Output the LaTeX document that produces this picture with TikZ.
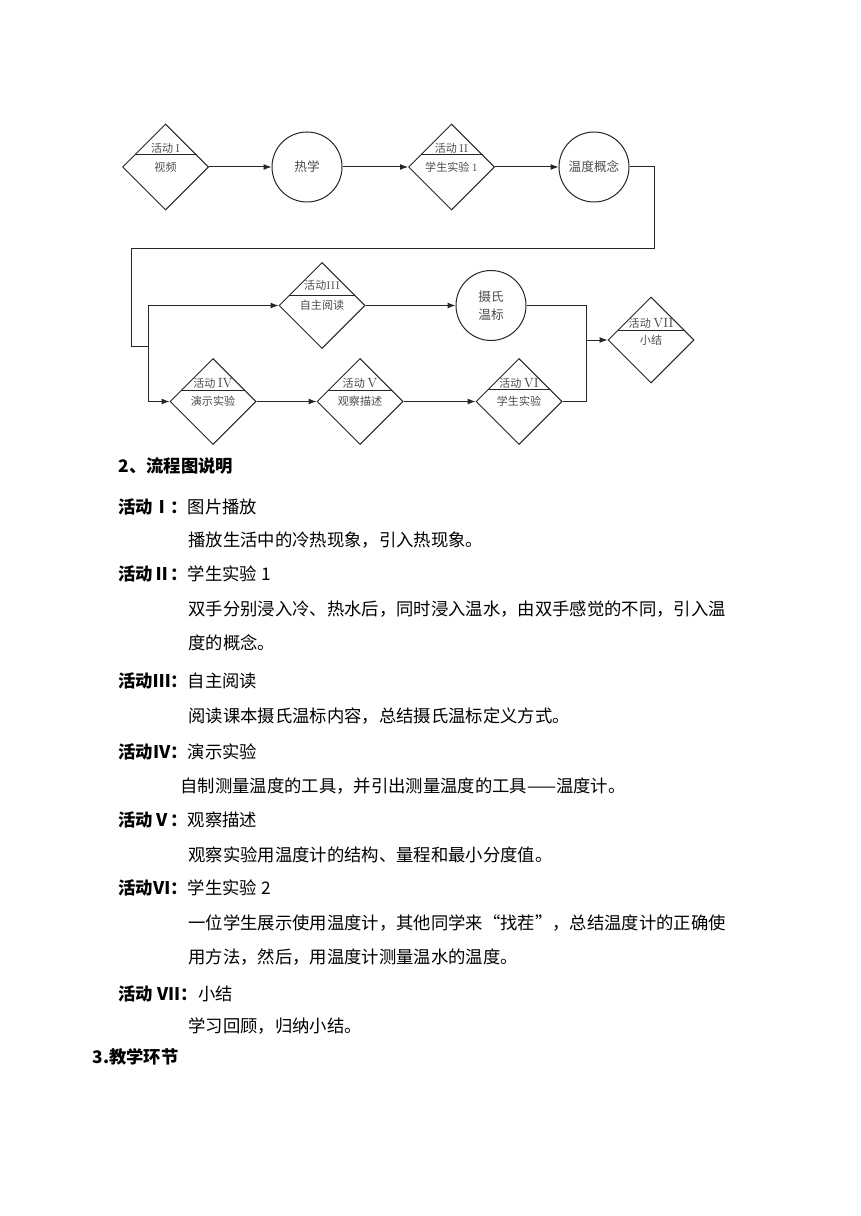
\documentclass[tikz,border=0pt]{standalone}
\usepackage{fontspec}
\usepackage{tikz}
\usetikzlibrary{shapes.geometric, arrows.meta}
\newfontfamily\cjk{Noto Sans CJK SC}
\newcommand{\rn}[1]{\makebox[1em]{#1}}
\newcommand{\oq}{\makebox[1em][r]{“}}
\newcommand{\cq}{\makebox[1em][l]{”}}
\newcommand{\bignum}[1]{{\rmfamily\fontsize{10pt}{10pt}\selectfont #1}}

\begin{document}
\begin{tikzpicture}[x=0.75pt, y=-0.75pt, line width=0.75pt, draw=black!85,
  act/.style={draw, diamond, minimum width=64.5pt, minimum height=64.5pt, inner sep=0pt, text=black!70, font=\cjk\fontsize{8.3pt}{9pt}\selectfont},
  topic/.style={draw, circle, minimum size=52.5pt, inner sep=0pt, text=black!70, align=center, font=\cjk\fontsize{9.5pt}{13.5pt}\selectfont},
  tag/.style={inner sep=0pt, text=black!70, font=\cjk\fontsize{8.3pt}{9pt}\selectfont},
  flow/.style={-{Latex[length=6pt, width=4.5pt]}},
  para/.style={anchor=west, inner sep=0pt, text height=11pt, text depth=1.5pt, font=\cjk\fontsize{13pt}{16pt}\selectfont},
  head/.style={para, font=\cjk\bfseries\fontsize{13pt}{16pt}\selectfont}]
	\path[fill=white] (0,0) rectangle (860,1216);
	\useasboundingbox (0,0) rectangle (860,1216);

	% flow chart, first row
	\node[act] (d1) at (165.5,167) {视频};
	\node[tag] (d1h) at ([shift={(0,-19)}]d1.center) {活动 {\rmfamily I}};
	\node[topic] (c1) at (307,167) {热学};
	\node[act] (d2) at (451.5,167) {学生实验 {\rmfamily 1}};
	\node[tag] (d2h) at ([shift={(0,-19)}]d2.center) {活动 {\rmfamily II}};
	\node[topic] (c2) at (594,167) {温度概念};

	% second row
	\node[act] (d3) at (322,305.5) {自主阅读};
	\node[tag] (d3h) at ([shift={(0,-20)}]d3.center) {活动{\rmfamily III}};
	\node[topic] (c3) at (491,305.5) {摄氏\\温标};
	\node[act] (d4) at (213,401.5) {演示实验};
	\node[tag] (d4h) at ([shift={(0,-18)}]d4.center) {活动 \bignum{IV}};
	\node[act] (d5) at (360,401.5) {观察描述};
	\node[tag] (d5h) at ([shift={(0,-18)}]d5.center) {活动 \bignum{V}};
	\node[act] (d6) at (519,401.5) {学生实验};
	\node[tag] (d6h) at ([shift={(0,-18)}]d6.center) {活动 \bignum{VI}};
	\node[act] (d7) at (651,340) {小结};
	\node[tag] (d7h) at ([shift={(0,-17)}]d7.center) {活动 \bignum{VII}};

	% lines under the titles
	\draw ([shift={(-31,-12)}]d1.center) -- ([shift={(31,-12)}]d1.center);
	\draw ([shift={(-31,-12)}]d2.center) -- ([shift={(31,-12)}]d2.center);
	\draw ([shift={(-33,-10)}]d3.center) -- ([shift={(33,-10)}]d3.center);
	\draw ([shift={(-32,-11)}]d4.center) -- ([shift={(32,-11)}]d4.center);
	\draw ([shift={(-32,-11)}]d5.center) -- ([shift={(32,-11)}]d5.center);
	\draw ([shift={(-31,-12)}]d6.center) -- ([shift={(31,-12)}]d6.center);
	\draw ([shift={(-33,-10)}]d7.center) -- ([shift={(33,-10)}]d7.center);

	\coordinate (turnR) at (654,249);
	\coordinate (turnL) at (131.7,249);
	\coordinate (join) at (148.7,346);
	\coordinate (merge) at (586.7,340);

	\draw[flow] (d1.east) -- (c1.west);
	\draw[flow] (c1.east) -- (d2.west);
	\draw[flow] (d2.east) -- (c2.west);
	\draw (c2.east) -| (turnR) -- (turnL) |- (join);
	\draw[flow] (join) |- (d3.west);
	\draw[flow] (join) |- (d4.west);
	\draw[flow] (d3.east) -- (c3.west);
	\draw[flow] (d4.east) -- (d5.west);
	\draw[flow] (d5.east) -- (d6.west);
	\draw (c3.east) -| (merge);
	\draw (d6.east) -| (merge);
	\draw[flow] (merge) -- (d7.west);

	% text under the chart
	\node[head] (h2) at (118,466) {2、流程图说明};
	\node[para] (a1) at (118,507) {{\bfseries 活动\rn{Ⅰ}：}图片播放};
	\node[para] (a1t) at (188,540) {播放生活中的冷热现象，引入热现象。};
	\node[para] (a2) at (118,574) {{\bfseries 活动\rn{Ⅱ}：}学生实验 1};
	\node[para] (a2t) at (188,609) {双手分别浸入冷、热水后，同时浸入温水，由双手感觉的不同，引入温};
	\node[para] (a2u) at (188,643) {度的概念。};
	\node[para] (a3) at (118,681) {{\bfseries 活动\rn{Ⅲ}：}自主阅读};
	\node[para] (a3t) at (188,716) {阅读课本摄氏温标内容，总结摄氏温标定义方式。};
	\node[para] (a4) at (118,752) {{\bfseries 活动\rn{Ⅳ}：}演示实验};
	\node[para] (a4t) at (180,786) {自制测量温度的工具，并引出测量温度的工具——温度计。};
	\node[para] (a5) at (118,820) {{\bfseries 活动\rn{Ⅴ}：}观察描述};
	\node[para] (a5t) at (188,855) {观察实验用温度计的结构、量程和最小分度值。};
	\node[para] (a6) at (118,888) {{\bfseries 活动\rn{Ⅵ}：}学生实验 2};
	\node[para] (a6t) at (188,923) {一位学生展示使用温度计，其他同学来\oq 找茬\cq，总结温度计的正确使};
	\node[para] (a6u) at (188,957) {用方法，然后，用温度计测量温水的温度。};
	\node[para] (a7) at (118,994) {{\bfseries 活动\makebox[1.6em][r]{VII}：}小结};
	\node[para] (a7t) at (188,1026) {学习回顾，归纳小结。};
	\node[head] (h3) at (92,1057) {3.教学环节};
\end{tikzpicture}
\end{document}
